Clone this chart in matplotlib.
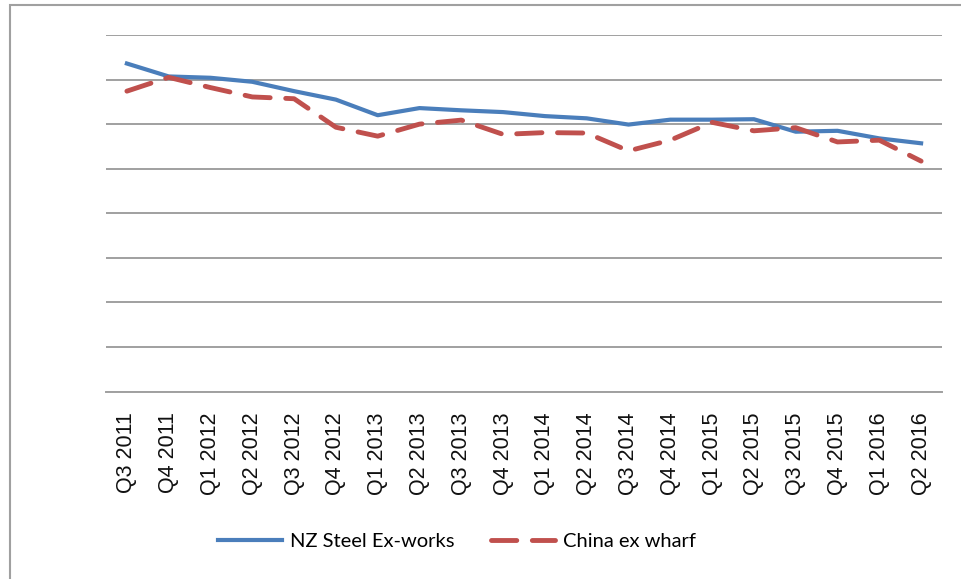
import matplotlib.pyplot as plt
from matplotlib.patches import Rectangle
import numpy as np

quarters = ["Q3 2011", "Q4 2011",
            "Q1 2012", "Q2 2012", "Q3 2012", "Q4 2012",
            "Q1 2013", "Q2 2013", "Q3 2013", "Q4 2013",
            "Q1 2014", "Q2 2014", "Q3 2014", "Q4 2014",
            "Q1 2015", "Q2 2015", "Q3 2015", "Q4 2015",
            "Q1 2016", "Q2 2016"]

nz_steel = [7.36, 7.07, 7.04, 6.95, 6.74, 6.55, 6.20, 6.36, 6.31, 6.27,
            6.18, 6.13, 5.99, 6.10, 6.10, 6.11, 5.83, 5.85, 5.68, 5.57]
china_wharf = [6.74, 7.05, 6.82, 6.61, 6.57, 5.93, 5.73, 6.00, 6.09, 5.77,
               5.81, 5.80, 5.40, 5.64, 6.04, 5.85, 5.92, 5.60, 5.64, 5.17]

W, H = 961, 579
fig = plt.figure(figsize=(W / 100, H / 100), dpi=100)
ax = fig.add_axes([106 / W, 1 - 391.5 / H, 836 / W, 356.5 / H])

x = np.arange(len(quarters))
ax.plot(x, nz_steel, color="#4a7ebb", lw=3.0, solid_joinstyle="round",
        label="NZ Steel Ex-works")
ax.plot(x, china_wharf, color="#c0504d", lw=3.5, dashes=(5.2, 3.2),
        dash_capstyle="round", label="China ex wharf")

ax.set_xlim(-0.5, len(quarters) - 0.5)
ax.set_ylim(0, 8)
ax.set_yticks(range(0, 9))
ax.set_yticklabels([])
ax.grid(axis="y", color="#a0a0a0", lw=1.4)
ax.set_axisbelow(True)
ax.tick_params(axis="y", length=0)

ax.set_xticks(x)
ax.set_xticklabels(quarters, rotation=90, fontsize=15.5,
                   family="Liberation Sans", color="#111111")
ax.tick_params(axis="x", length=0, pad=15)

for side in ["left", "right", "top"]:
    ax.spines[side].set_visible(False)
ax.spines["bottom"].set_color("#a0a0a0")
ax.spines["bottom"].set_linewidth(1.4)

fig.legend(loc="center", bbox_to_anchor=(457 / W, 1 - 541 / H), ncol=2,
           frameon=False, prop={"family": "Lato", "size": 14.5},
           handlelength=3.2, columnspacing=1.8, handletextpad=0.4)

# outer chart frame
fig.patches.append(Rectangle((10 / W, -0.05), 1.1, 1 - 5 / H + 0.05,
                             transform=fig.transFigure, fill=False,
                             edgecolor="#a0a0a0", lw=1.5))

fig.savefig("out.png", dpi=100)
